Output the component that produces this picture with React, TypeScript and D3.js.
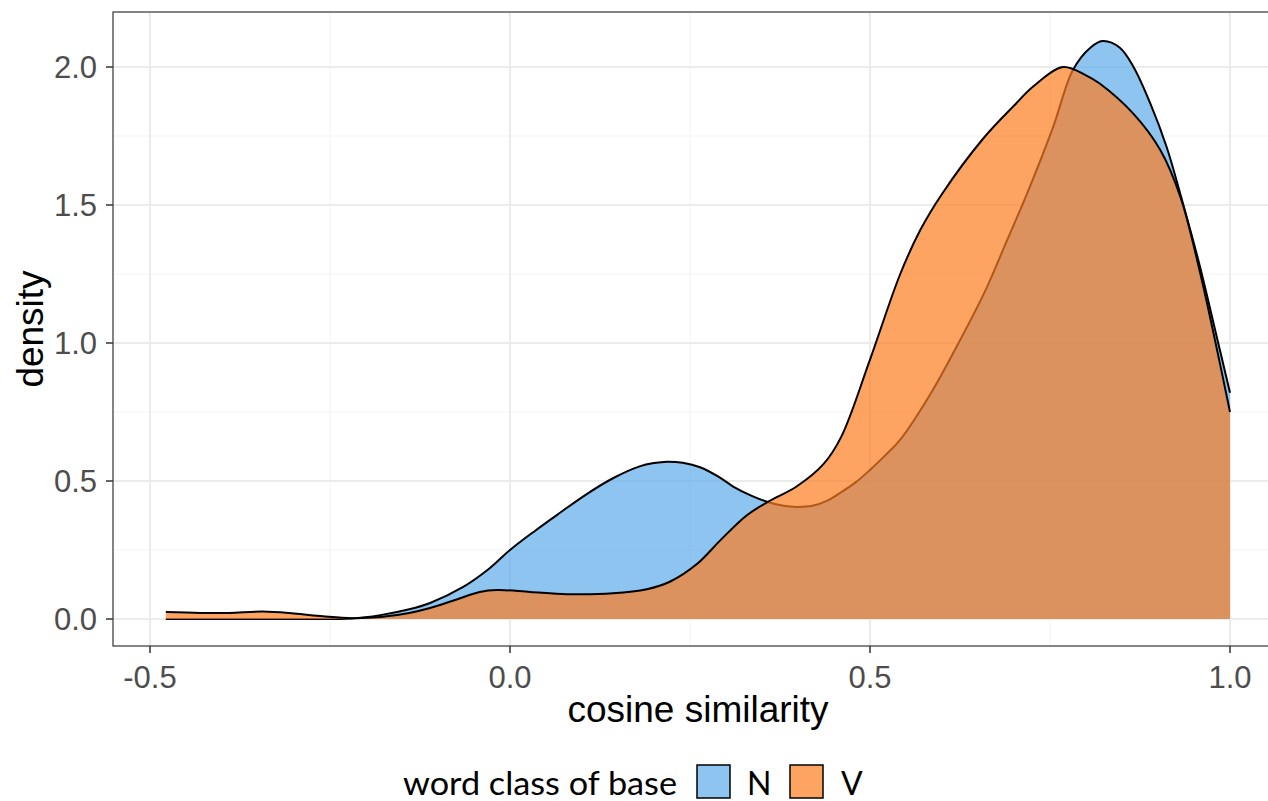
import React from "react";
import * as d3 from "d3";

// ---- data ----
const nX = [-0.478, -0.40, -0.30, -0.22, -0.18, -0.14, -0.111, -0.065, -0.03, 0.0, 0.035, 0.069, 0.105, 0.143, 0.18, 0.20, 0.218, 0.24, 0.264, 0.29, 0.31, 0.335, 0.358, 0.38, 0.398, 0.42, 0.44, 0.458, 0.48, 0.50, 0.52, 0.542, 0.585, 0.625, 0.662, 0.69, 0.718, 0.754, 0.782, 0.806, 0.823, 0.847, 0.866, 0.889, 0.912, 0.931, 0.958, 0.98, 1.0];
const nY = [0.0, 0.0, 0.0, 0.002, 0.014, 0.035, 0.058, 0.116, 0.18, 0.25, 0.32, 0.384, 0.45, 0.51, 0.553, 0.565, 0.57, 0.566, 0.55, 0.515, 0.48, 0.447, 0.424, 0.41, 0.406, 0.41, 0.428, 0.456, 0.495, 0.54, 0.59, 0.65, 0.82, 1.01, 1.2, 1.37, 1.54, 1.78, 1.99, 2.07, 2.094, 2.07, 2.0, 1.87, 1.71, 1.54, 1.28, 1.04, 0.82];

const vX = [-0.478, -0.43, -0.39, -0.343, -0.30, -0.26, -0.22, -0.18, -0.14, -0.111, -0.075, -0.042, -0.018, 0.028, 0.079, 0.143, 0.19, 0.222, 0.26, 0.292, 0.329, 0.358, 0.398, 0.435, 0.46, 0.50, 0.542, 0.57, 0.60, 0.657, 0.70, 0.727, 0.768, 0.80, 0.819, 0.866, 0.903, 0.931, 0.958, 0.98, 1.0];
const vY = [0.025, 0.022, 0.022, 0.027, 0.02, 0.01, 0.003, 0.007, 0.022, 0.04, 0.07, 0.098, 0.105, 0.098, 0.09, 0.093, 0.108, 0.135, 0.2, 0.285, 0.376, 0.424, 0.48, 0.56, 0.66, 0.94, 1.25, 1.41, 1.54, 1.74, 1.86, 1.93, 2.0, 1.97, 1.94, 1.83, 1.7, 1.53, 1.26, 1.0, 0.75];

const xTicks = [-0.5, 0.0, 0.5, 1.0];
const xMinor = [-0.25, 0.25, 0.75];
const yTicks = [0.0, 0.5, 1.0, 1.5, 2.0];
const yMinor = [0.25, 0.75, 1.25, 1.75];
const groups = ["N", "V"];
const groupColors = ["#5DABEA", "#FE7D1F"];

// ---- layout ----
const W = 1268, H = 801;
const panel = { left: 113, right: 1283, top: 12, bottom: 646 };

export default function App() {
  const x = d3.scaleLinear().domain([0, 1]).range([510, 1230]);
  const y = d3.scaleLinear().domain([0, 2]).range([619, 67]);
  const fmt = (v: number) => v.toFixed(1);

  const series = [
    { name: groups[0], color: groupColors[0], pts: nX.map((v, i) => [v, nY[i]] as [number, number]) },
    { name: groups[1], color: groupColors[1], pts: vX.map((v, i) => [v, vY[i]] as [number, number]) },
  ];
  const curve = d3.curveCatmullRom.alpha(0.5);
  const area = d3.area<[number, number]>().x(d => x(d[0])).y0(y(0)).y1(d => y(d[1])).curve(curve);
  const line = d3.line<[number, number]>().x(d => x(d[0])).y(d => y(d[1])).curve(curve);

  const tickFont = "'Liberation Sans', Arial, sans-serif";
  const legFont = "Lato, 'Open Sans', sans-serif";

  return (
    <svg width={W} height={H} style={{ position: "absolute", left: 0, top: 0, background: "#fff" }}>
      <rect x={0} y={0} width={W} height={H} fill="#fff" />
      {/* grid */}
      {yMinor.map(t => (
        <line key={"ym" + t} x1={panel.left} x2={panel.right} y1={y(t)} y2={y(t)} stroke="#F3F3F3" strokeWidth={1} />
      ))}
      {xMinor.map(t => (
        <line key={"xm" + t} x1={x(t)} x2={x(t)} y1={panel.top} y2={panel.bottom} stroke="#F3F3F3" strokeWidth={1} />
      ))}
      {yTicks.map(t => (
        <line key={"yg" + t} x1={panel.left} x2={panel.right} y1={y(t)} y2={y(t)} stroke="#EBEBEB" strokeWidth={2} />
      ))}
      {xTicks.map(t => (
        <line key={"xg" + t} x1={x(t)} x2={x(t)} y1={panel.top} y2={panel.bottom} stroke="#EBEBEB" strokeWidth={2} />
      ))}
      {/* densities */}
      {series.map(s => (
        <g key={s.name}>
          <path d={area(s.pts) || ""} fill={s.color} fillOpacity={0.7} stroke="none" />
          <path d={line(s.pts) || ""} fill="none" stroke="#000" strokeWidth={2} />
        </g>
      ))}
      {/* panel border */}
      <rect x={panel.left} y={panel.top} width={panel.right - panel.left} height={panel.bottom - panel.top} fill="none" stroke="#333" strokeWidth={1.2} />
      {/* x axis */}
      {xTicks.map(t => (
        <g key={"xt" + t}>
          <line x1={x(t)} x2={x(t)} y1={panel.bottom} y2={panel.bottom + 7} stroke="#333" strokeWidth={1.5} />
          <text x={x(t)} y={688} textAnchor="middle" fontFamily={tickFont} fontSize={31} fill="#4D4D4D">{fmt(t)}</text>
        </g>
      ))}
      {/* y axis */}
      {yTicks.map(t => (
        <g key={"yt" + t}>
          <line x1={panel.left - 7} x2={panel.left} y1={y(t)} y2={y(t)} stroke="#333" strokeWidth={1.5} />
          <text x={97} y={y(t) + 11} textAnchor="end" fontFamily={tickFont} fontSize={31} fill="#4D4D4D">{fmt(t)}</text>
        </g>
      ))}
      <text x={698} y={722} textAnchor="middle" fontFamily={tickFont} fontSize={37} fill="#000">cosine similarity</text>
      <text transform="translate(43,329) rotate(-90)" textAnchor="middle" fontFamily={tickFont} fontSize={37} fill="#000">density</text>
      {/* legend */}
      <text x={403} y={795} fontFamily={legFont} fontSize={32} fill="#000" textLength={274} lengthAdjust="spacingAndGlyphs">word class of base</text>
      {series.map((s, i) => (
        <g key={"lg" + s.name}>
          <rect x={697 + i * 93} y={765} width={33} height={33} fill={s.color} fillOpacity={0.7} stroke="#000" strokeWidth={1.5} />
          <text x={747 + i * 94} y={795} fontFamily={legFont} fontSize={32} fill="#000">{s.name}</text>
        </g>
      ))}
    </svg>
  );
}
